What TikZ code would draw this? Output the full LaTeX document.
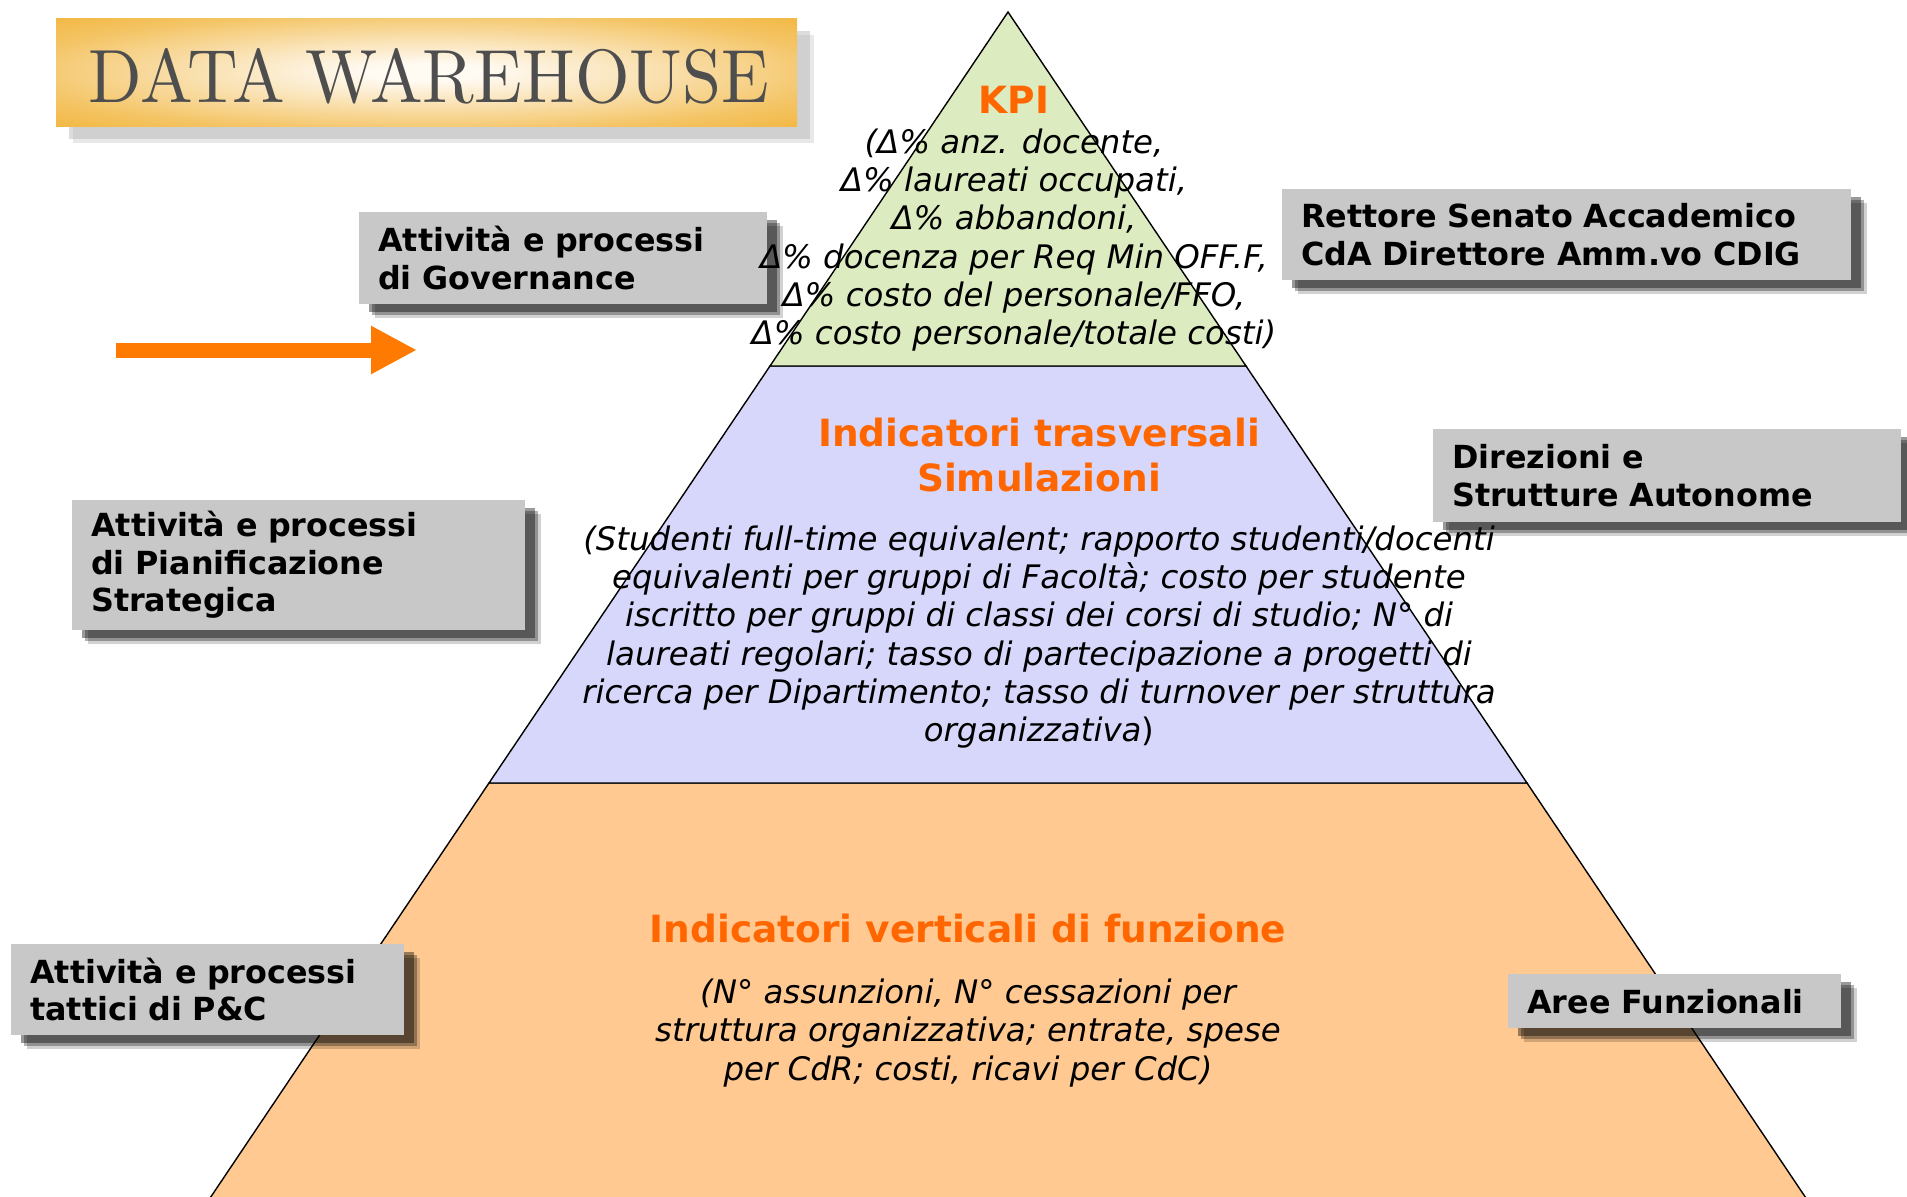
\documentclass[tikz,border=0pt]{standalone}
\usepackage{fontspec}
\setmainfont{DejaVu Sans}
\newfontfamily\titlefont{Latin Modern Roman}
\usetikzlibrary{arrows.meta,shadows}
\definecolor{kpigreen}{RGB}{221,235,192}
\definecolor{midblue}{RGB}{214,215,250}
\definecolor{peach}{RGB}{255,201,145}
\definecolor{hdorange}{RGB}{255,102,0}
\definecolor{arrorange}{RGB}{255,122,0}
\definecolor{boxgrey}{RGB}{200,200,200}
\definecolor{titlegrey}{RGB}{78,78,78}
\definecolor{titleedge}{RGB}{240,174,40}
\definecolor{titlemid}{RGB}{244,196,100}
\definecolor{titlelight}{RGB}{250,228,185}
\definecolor{titlecenter}{RGB}{255,250,242}
\pgfdeclareradialshading{titleglow}{\pgfpoint{0bp}{0bp}}{color(0bp)=(titlecenter); color(4bp)=(titlecenter); color(14bp)=(titlelight); color(28bp)=(titlemid); color(42bp)=(titleedge); color(80bp)=(titleedge)}
\begin{document}
\begin{tikzpicture}[x=1pt,y=-1pt,
  shd/.style={drop shadow={shadow xshift=16pt, shadow yshift=-14pt, fill=black, opacity=0.18},
              drop shadow={shadow xshift=13pt, shadow yshift=-11pt, fill=black, opacity=0.3},
              drop shadow={shadow xshift=10pt, shadow yshift=-8pt, fill=black, opacity=0.4}},
  lbl/.style={shd, fill=boxgrey, anchor=north west, inner xsep=19pt, inner ysep=0pt,
              align=left, font=\fontsize{31.8}{37.5}\selectfont\bfseries},
  band/.style={draw=black, line width=1.4pt, line join=miter},
  head/.style={text=hdorange, align=center, font=\fontsize{37.5}{45}\selectfont\bfseries},
  body/.style={align=center, font=\fontsize{32.4}{38.2}\selectfont\itshape}]
\path[use as bounding box] (0,0) rectangle (1907,1197);

% pyramid
\coordinate (apex) at (1008,12);
\coordinate (l1) at (770,366);
\coordinate (r1) at (1246,366);
\coordinate (l2) at (489,783);
\coordinate (r2) at (1527,783);
\coordinate (l3) at (202,1210);
\coordinate (r3) at (1814,1210);
\fill[peach] (l2) -- (r2) -- (r3) -- (l3) -- cycle;
\draw[band] (l3) -- (l2) -- (r2) -- (r3);
\filldraw[band, fill=midblue] (l1) -- (r1) -- (r2) -- (l2) -- cycle;
\filldraw[band, fill=kpigreen] (apex) -- (r1) -- (l1) -- cycle;

% title
\node[shade, shading=titleglow, minimum width=741pt, minimum height=108pt, inner sep=0pt,
      drop shadow={shadow xshift=17pt, shadow yshift=-17pt, fill=black!30, opacity=0.3},
      drop shadow={shadow xshift=13pt, shadow yshift=-13pt, fill=black!30, opacity=0.45}]
      (title) at (426.5,72) {};
\node[text=titlegrey, inner sep=0pt] (titletext) at (429,76)
      {\resizebox{680pt}{54pt}{\titlefont DATA\hspace{0.3em}WAREHOUSE}};

% arrow
\coordinate (arrS) at (116,350);
\coordinate (arrE) at (417,350);
\draw[arrorange, line width=15pt, -{Triangle[length=46pt,width=45pt]}] (arrS) -- (arrE);

% labels
\node[lbl, minimum width=408pt, minimum height=92pt, text width=370pt] (gov) at (359,212)
  {Attività e processi\\di Governance};
\node[lbl, minimum width=569pt, minimum height=91pt, text width=531pt] (rett) at (1282,189)
  {Rettore Senato Accademico\\CdA Direttore Amm.vo CDIG};
\node[lbl, minimum width=468pt, minimum height=93pt, text width=430pt] (dir) at (1433,429)
  {Direzioni e\\Strutture Autonome};
\node[lbl, minimum width=453pt, minimum height=130pt, text width=415pt] (pian) at (72,500)
  {Attività e processi\\di Pianificazione\\Strategica};
\node[lbl, minimum width=393pt, minimum height=91pt, text width=355pt] (tatt) at (11,944)
  {Attività e processi\\tattici di P\&C};
\node[lbl, minimum width=333pt, minimum height=54pt, text width=295pt] (aree) at (1508,974)
  {Aree Funzionali};

% pyramid texts
\node[head] (kpi) at (1014,100) {KPI};
\node[body] (kpibody) at (1014,240)
  {(Δ\% anz. docente,\\Δ\% laureati occupati,\\Δ\% abbandoni,\\Δ\% docenza per Req Min OFF.F,\\Δ\% costo del personale/FFO,\\Δ\% costo personale/totale costi)};
\node[head] (trasv) at (1039,455) {Indicatori trasversali\\Simulazioni};
\node[body] (trasvbody) at (1039,637)
  {(Studenti full-time equivalent; rapporto studenti/docenti\\equivalenti per gruppi di Facoltà; costo per studente\\iscritto per gruppi di classi dei corsi di studio; N° di\\laureati regolari; tasso di partecipazione a progetti di\\ricerca per Dipartimento; tasso di turnover per struttura\\organizzativa{\upshape)}};
\node[head] (vert) at (968,929) {Indicatori verticali di funzione};
\node[body] (vertbody) at (968,1033)
  {(N° assunzioni, N° cessazioni per\\struttura organizzativa; entrate, spese\\per CdR; costi, ricavi per CdC)};
\end{tikzpicture}
\end{document}
